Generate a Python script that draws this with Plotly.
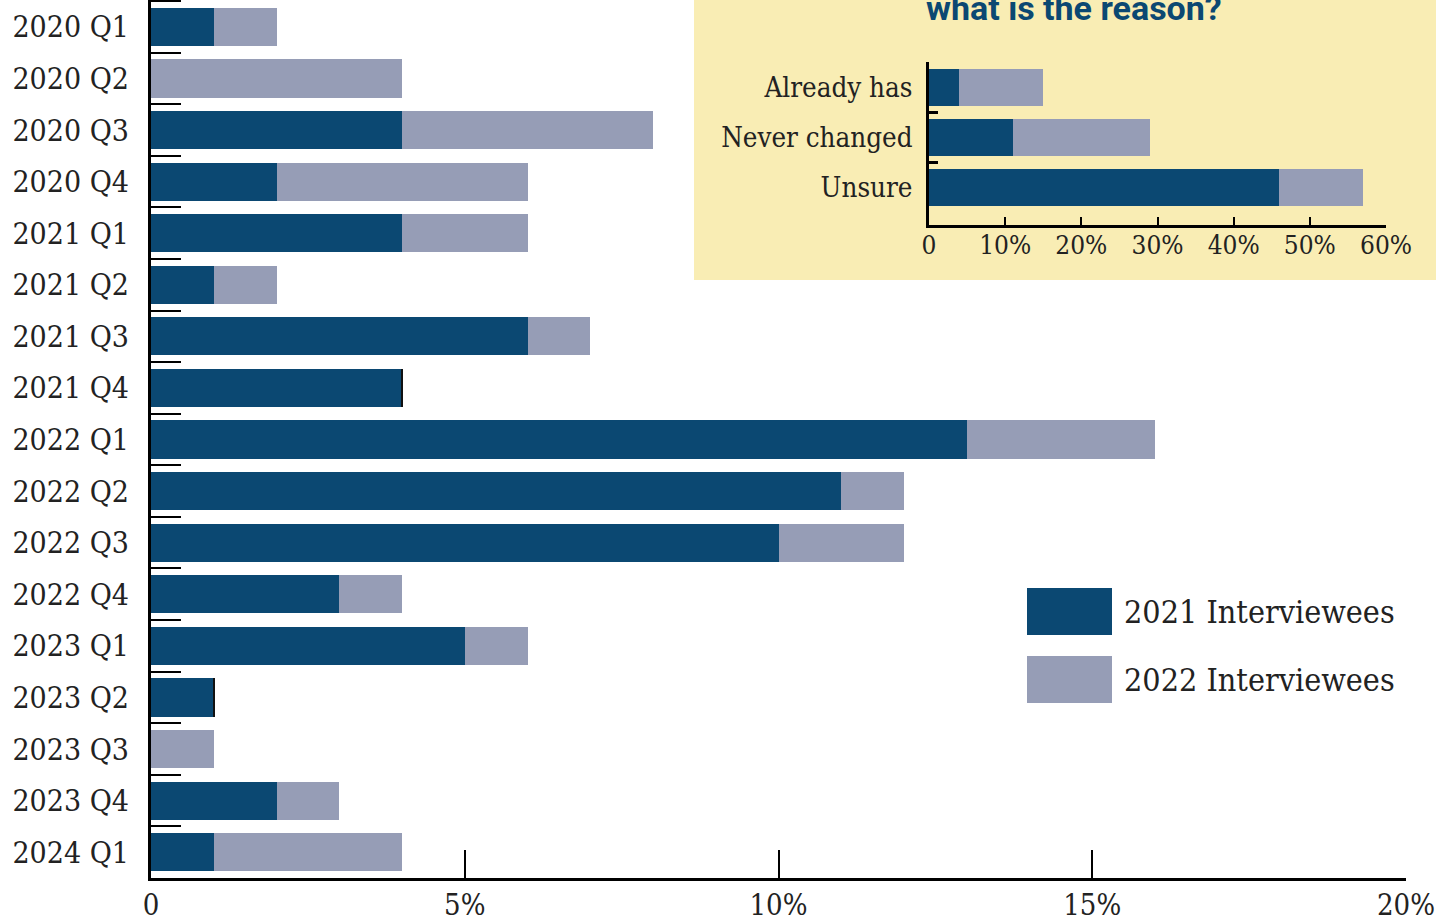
"""
Quarterly share of interviewees with an inset on the stated reason.
"""

import plotly.graph_objects as go

# main chart data (percent)
quarters = ['2020 Q1', '2020 Q2', '2020 Q3', '2020 Q4', '2021 Q1', '2021 Q2',
            '2021 Q3', '2021 Q4', '2022 Q1', '2022 Q2', '2022 Q3', '2022 Q4',
            '2023 Q1', '2023 Q2', '2023 Q3', '2023 Q4', '2024 Q1']
vals_2021 = [1, 0, 4, 2, 4, 1, 6, 4, 13, 11, 10, 3, 5, 1, 0, 2, 1]
vals_2022 = [1, 4, 4, 4, 2, 1, 1, 0, 3, 1, 2, 1, 1, 0, 1, 1, 3]
x_ticks = [0, 5, 10, 15, 20]
x_tick_text = ['0', '5%', '10%', '15%', '20%']

# inset data (percent)
reasons = ['Already has', 'Never changed', 'Unsure']
reason_2021 = [4, 11, 46]
reason_2022 = [11, 18, 11]
inset_ticks = [0, 10, 20, 30, 40, 50, 60]
inset_tick_text = ['0', '10%', '20%', '30%', '40%', '50%', '60%']

series_names = ['2021 Interviewees', '2022 Interviewees']

DARK = '#0b4872'
GREY = '#969db6'
YELLOW = '#f9edb4'
INK = '#222222'
SERIF = 'DejaVu Serif Condensed, DejaVu Serif, serif'

W, H = 1455, 917


def px_x(p):
    return p / W


def px_y(p):
    return 1 - p / H


fig = go.Figure()

# main bars
fig.add_trace(go.Bar(
    y=quarters, x=vals_2021, orientation='h', name=series_names[0],
    marker=dict(color=DARK, line=dict(width=0)), showlegend=False,
    xaxis='x', yaxis='y'))
fig.add_trace(go.Bar(
    y=quarters, x=vals_2022, orientation='h', name=series_names[1],
    marker=dict(color=GREY, line=dict(color='#111111',
                                       width=[1.5 if v == 0 else 0 for v in vals_2022])),
    showlegend=False, xaxis='x', yaxis='y'))

# inset bars
fig.add_trace(go.Bar(
    y=reasons, x=reason_2021, orientation='h', name=series_names[0],
    marker=dict(color=DARK, line=dict(width=0)), showlegend=False,
    xaxis='x2', yaxis='y2'))
fig.add_trace(go.Bar(
    y=reasons, x=reason_2022, orientation='h', name=series_names[1],
    marker=dict(color=GREY, line=dict(width=0)), showlegend=False,
    xaxis='x2', yaxis='y2'))

fig.update_layout(
    width=W, height=H,
    margin=dict(l=0, r=0, t=0, b=0),
    barmode='stack',
    paper_bgcolor='white',
    plot_bgcolor='rgba(0,0,0,0)',
    font=dict(family=SERIF, color=INK),
    xaxis=dict(
        domain=[px_x(151), px_x(1406)], range=[0, 20], anchor='y',
        tickvals=x_ticks, ticktext=x_tick_text,
        ticks='inside', ticklen=28, tickwidth=2, tickcolor='black',
        showline=True, linecolor='black', linewidth=3,
        showgrid=False, zeroline=False, automargin=False,
        tickfont=dict(size=29, color=INK), ticklabelstandoff=-1),
    yaxis=dict(
        domain=[px_y(878), px_y(0)], range=[len(quarters) - 0.5, -0.52],
        anchor='x', type='category',
        ticks='inside', tickson='boundaries', ticklen=30, tickwidth=2,
        tickcolor='black', showline=True, linecolor='black', linewidth=3,
        showgrid=False, zeroline=False, automargin=False,
        tickfont=dict(size=30, color=INK), ticklabelstandoff=13),
    xaxis2=dict(
        domain=[px_x(929), px_x(1386)], range=[0, 60], anchor='y2',
        tickvals=inset_ticks, ticktext=inset_tick_text,
        ticks='inside', ticklen=8, tickwidth=2, tickcolor='black',
        showline=True, linecolor='black', linewidth=3,
        showgrid=False, zeroline=False, automargin=False,
        tickfont=dict(size=26, color=INK), ticklabelstandoff=-5),
    yaxis2=dict(
        domain=[px_y(225), px_y(62)], range=[len(reasons) - 0.26, -0.5],
        anchor='x2', type='category',
        ticks='inside', tickson='boundaries', ticklen=9, tickwidth=3,
        tickcolor='black', showline=True, linecolor='black', linewidth=3,
        showgrid=False, zeroline=False, automargin=False,
        tickfont=dict(size=27.5, color=INK), ticklabelstandoff=8),
    bargap=0.26,
)

# inset background panel
fig.add_shape(type='rect', xref='paper', yref='paper',
              x0=px_x(694), x1=px_x(1436), y0=px_y(280), y1=1.05,
              fillcolor=YELLOW, line=dict(width=0), layer='below')

# inset title, cropped at the top like the source
fig.add_annotation(
    text='<b>what is the reason?</b>', xref='paper', yref='paper',
    x=px_x(1074), y=px_y(30), xanchor='center', yanchor='bottom',
    showarrow=False,
    font=dict(family='Liberation Sans Narrow, Roboto, sans-serif', size=34, color=DARK))

# legend drawn as swatches and labels
legend_rows = [(588, 635), (656, 703)]
for name, color, (top, bottom) in zip(series_names, [DARK, GREY], legend_rows):
    fig.add_shape(type='rect', xref='paper', yref='paper',
                  x0=px_x(1027), x1=px_x(1112), y0=px_y(bottom), y1=px_y(top),
                  fillcolor=color, line=dict(width=0))
    fig.add_annotation(
        text=name, xref='paper', yref='paper',
        x=px_x(1122), y=px_y((top + bottom) / 2), xanchor='left', yanchor='middle',
        showarrow=False, font=dict(family=SERIF, size=32, color=INK))

# drop the browser's default body margin so the figure sits at the page corner
fig.write_html("out.html", config={'displayModeBar': False},
               post_script="document.body.style.margin = '0';")
